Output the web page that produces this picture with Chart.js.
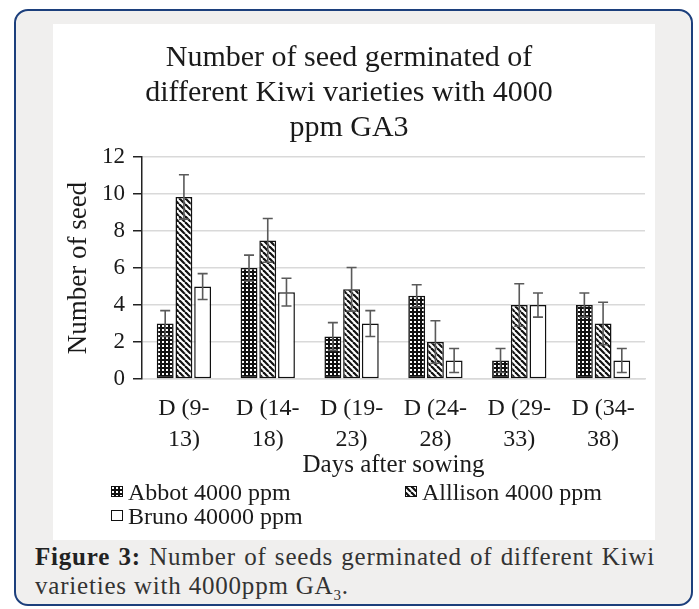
<!DOCTYPE html>
<html>
<head>
<meta charset="utf-8">
<script src="https://cdn.jsdelivr.net/npm/chart.js@4.4.0/dist/chart.umd.min.js"></script>
<style>
  html, body { margin: 0; padding: 0; background: #ffffff; }
  body { width: 699px; height: 609px; position: relative; overflow: hidden; font-family: "Liberation Serif", "Times New Roman", serif; }
  #frame { position: absolute; left: 14px; top: 9px; width: 675px; height: 593px; border: 2px solid #1c3f7c; border-radius: 14px; background: #f0efee; }
  #white { position: absolute; left: 53px; top: 24px; width: 602px; height: 516px; background: #ffffff; }
  #chart { position: absolute; left: 0; top: 0; }
  .leg { position: absolute; font-size: 24px; color: #1a1a1a; line-height: 24px; white-space: nowrap; }
  .leg canvas { position: absolute; left: -17px; top: 6px; }
  #caption { position: absolute; left: 35px; top: 542px; width: 620px; font-size: 25px; letter-spacing: 0.8px; color: #333; line-height: 29px; }
  #cap1 { text-align: justify; text-align-last: justify; white-space: nowrap; }
  #caption b { color: #222; }
</style>
</head>
<body>
<div id="frame"></div>
<div id="white">
  <canvas id="chart" width="602" height="462"></canvas>
  <div class="leg" id="leg0" style="left:75px; top:456px;"><canvas width="12" height="11"></canvas><span></span></div>
  <div class="leg" id="leg1" style="left:369px; top:456px;"><canvas width="12" height="11"></canvas><span></span></div>
  <div class="leg" id="leg2" style="left:75px; top:480px;"><canvas width="12" height="11"></canvas><span></span></div>
</div>
<div id="caption">
  <div id="cap1"><b>Figure 3:</b> Number of seeds germinated of different Kiwi</div>
  <div>varieties with 4000ppm GA<sub style="font-size:15px;">3</sub>.</div>
</div>
<script>
// ---- data ----
const categories = [["D (9-", "13)"], ["D (14-", "18)"], ["D (19-", "23)"], ["D (24-", "28)"], ["D (29-", "33)"], ["D (34-", "38)"]];
const seriesNames = ["Abbot 4000 ppm", "Alllison 4000 ppm", "Bruno 40000 ppm"];
const abbot = [3, 6, 2.3, 4.5, 1, 4];
const allison = [9.85, 7.5, 4.85, 2, 4, 3];
const bruno = [5, 4.7, 3, 1, 4, 1];
const abbotErr = [0.7, 0.7, 0.75, 0.6, 0.65, 0.65];
const allisonErr = [1.2, 1.18, 1.18, 1.15, 1.15, 1.15];
const brunoErr = [0.7, 0.75, 0.7, 0.65, 0.65, 0.65];
const yTicks = [0, 2, 4, 6, 8, 10, 12];
const titleLines = ["Number of seed germinated of", "different Kiwi varieties with 4000", "ppm GA3"];
const xTitle = "Days after sowing";
const yTitle = "Number of seed";

// ---- patterns ----
function dotTile() {
  const c = document.createElement('canvas'); c.width = 4; c.height = 4;
  const g = c.getContext('2d');
  g.fillStyle = '#111'; g.fillRect(0, 0, 4, 4);
  g.fillStyle = '#fff'; g.fillRect(1, 1, 2, 2);
  return c;
}
function stripeTile() {
  const s = 6;
  const c = document.createElement('canvas'); c.width = s; c.height = s;
  const g = c.getContext('2d');
  g.fillStyle = '#fff'; g.fillRect(0, 0, s, s);
  g.strokeStyle = '#111'; g.lineWidth = 2.2;
  for (let k = -1; k <= 1; k++) {
    g.beginPath(); g.moveTo(k * s, 0); g.lineTo(k * s + s, s); g.stroke();
  }
  return c;
}
function whiteTile() {
  const c = document.createElement('canvas'); c.width = 2; c.height = 2;
  const g = c.getContext('2d'); g.fillStyle = '#fff'; g.fillRect(0, 0, 2, 2);
  return c;
}
const ctx = document.getElementById('chart').getContext('2d');
const tiles = [dotTile(), stripeTile(), whiteTile()];
const patterns = tiles.map(t => ctx.createPattern(t, 'repeat'));

// legend swatches (HTML)
['leg0', 'leg1', 'leg2'].forEach((id, i) => {
  const el = document.getElementById(id);
  el.querySelector('span').textContent = seriesNames[i];
  const sc = el.querySelector('canvas').getContext('2d');
  sc.fillStyle = sc.createPattern(tiles[i], 'repeat');
  sc.fillRect(0, 0, 12, 11);
  sc.strokeStyle = '#111'; sc.lineWidth = 1;
  sc.strokeRect(0.5, 0.5, 11, 10);
});

const errs = [abbotErr, allisonErr, brunoErr];
const errorBars = {
  id: 'errorBars',
  afterDatasetsDraw(chart) {
    const c = chart.ctx, ys = chart.scales.y;
    c.save();
    c.strokeStyle = '#5a5a5a'; c.lineWidth = 1.6;
    chart.data.datasets.forEach((ds, i) => {
      const meta = chart.getDatasetMeta(i);
      meta.data.forEach((bar, j) => {
        const v = ds.data[j], e = errs[i][j];
        const yt = ys.getPixelForValue(v + e), yb = ys.getPixelForValue(Math.max(0, v - e));
        const x = bar.x, w = 5;
        c.beginPath();
        c.moveTo(x, yt); c.lineTo(x, yb);
        c.moveTo(x - w, yt); c.lineTo(x + w, yt);
        c.moveTo(x - w, yb); c.lineTo(x + w, yb);
        c.stroke();
      });
    });
    c.restore();
  }
};

const font = "'Liberation Serif', 'Times New Roman', serif";
const values = [abbot, allison, bruno];
new Chart(ctx, {
  type: 'bar',
  data: {
    labels: categories,
    datasets: values.map((v, i) => ({
      label: seriesNames[i],
      data: v,
      backgroundColor: patterns[i],
      borderColor: '#111',
      borderWidth: 1.5,
      borderSkipped: false,
      categoryPercentage: 0.67,
      barPercentage: 0.9
    }))
  },
  options: {
    responsive: false,
    devicePixelRatio: 1,
    animation: false,
    layout: { padding: { left: 0, right: 10, top: 0, bottom: 3 } },
    plugins: {
      legend: { display: false },
      tooltip: { enabled: false },
      title: {
        display: true,
        text: titleLines,
        color: '#1a1a1a',
        font: { family: font, size: 30, weight: 'normal', lineHeight: 1.18 },
        padding: { top: 16, bottom: 11 }
      }
    },
    scales: {
      x: {
        grid: { display: false, drawTicks: false },
        border: { display: true, color: '#d9d9d9', width: 1.5 },
        ticks: { color: '#1a1a1a', font: { family: font, size: 24, lineHeight: 1.3 }, padding: 14, maxRotation: 0, autoSkip: false },
        title: { display: true, text: xTitle, color: '#1a1a1a', font: { family: font, size: 25, lineHeight: 1.2 }, padding: { top: 0, bottom: 3 } },
        afterFit(s) { s.height = 104; }
      },
      y: {
        min: 0, max: 12,
        afterBuildTicks(s) { s.ticks = yTicks.map(v => ({ value: v })); },
        grid: { color: '#d9d9d9', lineWidth: 1.5, tickColor: '#222', tickLength: 9, drawTicks: true },
        border: { display: true, color: '#222', width: 1.5 },
        ticks: { color: '#1a1a1a', font: { family: font, size: 23 }, padding: 8 },
        title: { display: true, text: yTitle, color: '#1a1a1a', font: { family: font, size: 27, lineHeight: 1.2 }, padding: { top: 10, bottom: 0 } },
        afterFit(s) { s.width = 89; }
      }
    }
  },
  plugins: [errorBars]
});
</script>
</body>
</html>
